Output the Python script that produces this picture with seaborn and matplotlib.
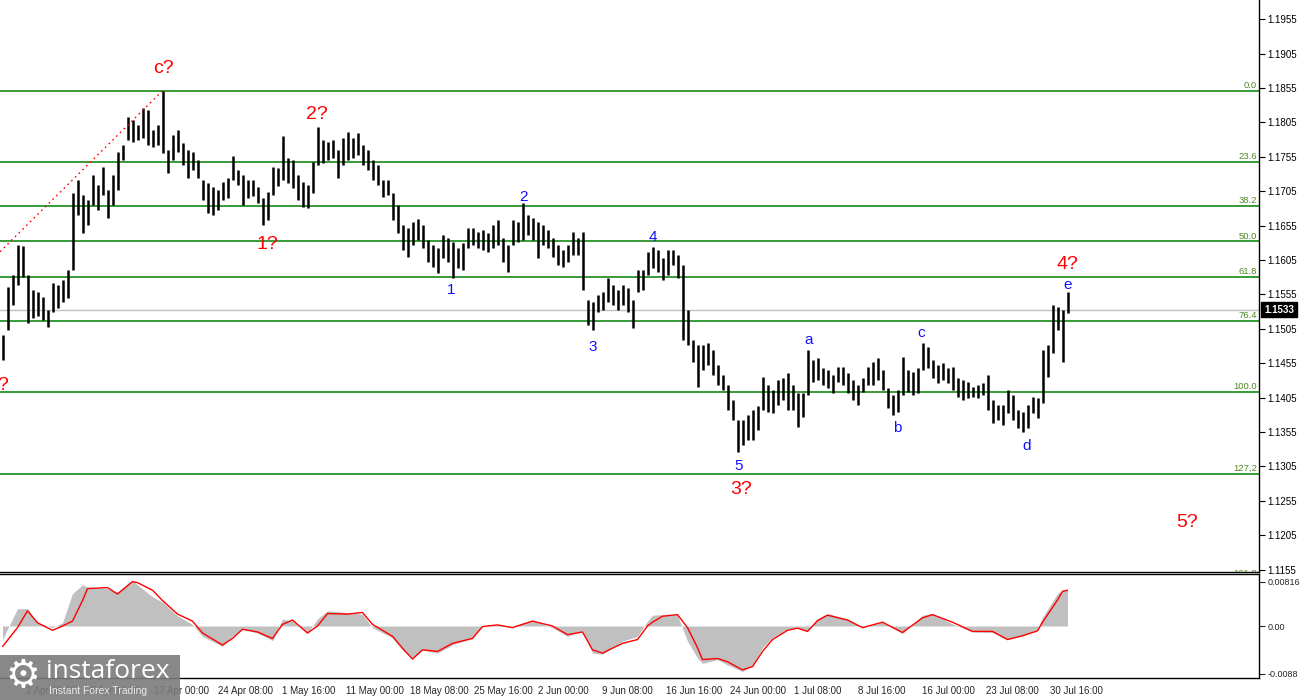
import numpy as np
import matplotlib
matplotlib.use("Agg")
import matplotlib.pyplot as plt
import seaborn as sns
from matplotlib.patches import Rectangle

# price bars, 4-digit codes: 1632 -> 1.1632
high = [1496, 1566, 1583, 1627, 1625, 1583, 1561, 1558, 1551, 1532,
        1572, 1569, 1576, 1590, 1702, 1721, 1699, 1692, 1728, 1714,
        1740, 1707, 1728, 1762, 1772, 1813, 1808, 1801, 1826, 1823,
        1794, 1801, 1851, 1765, 1787, 1794, 1775, 1765, 1762, 1750,
        1721, 1717, 1711, 1707, 1718, 1724, 1756, 1736, 1728, 1721,
        1721, 1711, 1695, 1704, 1740, 1739, 1785, 1753, 1750, 1728,
        1718, 1714, 1748, 1798, 1779, 1777, 1779, 1765, 1782, 1791,
        1782, 1790, 1772, 1765, 1750, 1743, 1721, 1721, 1702, 1685,
        1656, 1651, 1660, 1665, 1656, 1634, 1627, 1622, 1641, 1637,
        1631, 1622, 1630, 1651, 1651, 1646, 1649, 1644, 1656, 1663,
        1637, 1627, 1663, 1660, 1688, 1670, 1666, 1660, 1656, 1649,
        1637, 1627, 1620, 1627, 1646, 1637, 1646, 1547, 1544, 1554,
        1558, 1579, 1569, 1561, 1569, 1564, 1547, 1590, 1590, 1617,
        1624, 1620, 1608, 1620, 1620, 1612, 1598, 1532, 1489, 1482,
        1482, 1484, 1474, 1452, 1438, 1423, 1402, 1372, 1372, 1380,
        1387, 1393, 1435, 1423, 1416, 1431, 1434, 1441, 1423, 1412,
        1412, 1474, 1460, 1463, 1448, 1445, 1438, 1449, 1449, 1441,
        1431, 1423, 1434, 1449, 1457, 1463, 1445, 1419, 1409, 1416,
        1464, 1445, 1442, 1448, 1484, 1479, 1460, 1452, 1455, 1448,
        1449, 1434, 1431, 1428, 1420, 1423, 1426, 1438, 1402, 1394,
        1394, 1416, 1409, 1387, 1384, 1394, 1406, 1404, 1474, 1482,
        1540, 1537, 1532, 1559]
low = [1460, 1503, 1540, 1569, 1580, 1513, 1521, 1524, 1518, 1508,
       1529, 1535, 1544, 1550, 1590, 1670, 1644, 1656, 1685, 1678,
       1699, 1666, 1685, 1707, 1750, 1779, 1777, 1779, 1782, 1772,
       1769, 1772, 1760, 1731, 1750, 1762, 1743, 1724, 1736, 1724,
       1692, 1673, 1670, 1678, 1692, 1695, 1721, 1714, 1685, 1695,
       1698, 1688, 1656, 1663, 1699, 1713, 1721, 1717, 1710, 1692,
       1682, 1680, 1702, 1743, 1746, 1750, 1753, 1724, 1743, 1750,
       1753, 1758, 1743, 1736, 1721, 1714, 1697, 1699, 1663, 1644,
       1620, 1609, 1627, 1634, 1622, 1602, 1595, 1586, 1608, 1602,
       1579, 1593, 1590, 1622, 1627, 1622, 1620, 1617, 1622, 1627,
       1602, 1588, 1627, 1631, 1634, 1641, 1634, 1608, 1627, 1622,
       1609, 1598, 1595, 1602, 1612, 1612, 1561, 1511, 1503, 1529,
       1532, 1544, 1540, 1532, 1540, 1529, 1506, 1558, 1561, 1583,
       1593, 1588, 1576, 1583, 1598, 1579, 1489, 1482, 1457, 1420,
       1445, 1452, 1438, 1423, 1416, 1387, 1372, 1326, 1336, 1343,
       1343, 1358, 1387, 1384, 1383, 1394, 1402, 1387, 1387, 1362,
       1377, 1409, 1428, 1431, 1423, 1419, 1412, 1428, 1423, 1412,
       1402, 1394, 1413, 1423, 1423, 1431, 1416, 1390, 1380, 1384,
       1409, 1413, 1409, 1412, 1445, 1448, 1434, 1426, 1431, 1426,
       1416, 1406, 1402, 1404, 1406, 1404, 1409, 1387, 1368, 1372,
       1365, 1383, 1372, 1361, 1355, 1361, 1383, 1375, 1397, 1435,
       1470, 1503, 1457, 1528]
last_price = 1.1533

fib_labels = ["0.0", "23.6", "38.2", "50.0", "61.8", "76.4", "100.0", "127,2", "161.8"]
fib_prices = [1.1851, 1.1748, 1.1684, 1.1632, 1.1580, 1.1516, 1.1413, 1.1294, 1.1142]

# MACD panel (bar index, main histogram, signal)
macd_bar = [0, 3, 5, 7, 10, 12, 14, 16, 17, 21, 23, 26, 27, 30, 32, 35, 38, 40, 44, 46,
            48, 51, 54, 56, 58, 61, 63, 65, 69, 72, 74, 78, 80, 82, 84, 87, 90, 94, 96, 99,
            102, 106, 110, 113, 116, 118, 120, 124, 127, 129, 130, 132, 135, 137, 139, 140,
            143, 145, 148, 150, 152, 154, 157, 159, 161, 163, 165, 169, 172, 176, 180, 184,
            186, 190, 194, 198, 201, 204, 207, 208, 211, 212, 213]
macd_main = [-0.0025, 0.0032, 0.0032, 0.0006, -0.0003, 0.0006, 0.0060, 0.0076, 0.0072, 0.0069,
             0.0063, 0.0085, 0.0076, 0.0054, 0.0044, 0.0019, 0.0003, -0.0019, -0.0038, -0.0019,
             -0.0006, -0.0013, -0.0027, 0.0013, 0.0009, -0.0013, 0.0013, 0.0028, 0.0025, 0.0022,
             -0.0003, -0.0022, -0.0044, -0.0060, -0.0044, -0.0050, -0.0035, -0.0022, 0.0000, 0.0002,
             0.0000, 0.0011, -0.0003, -0.0019, -0.0009, -0.0050, -0.0052, -0.0028, -0.0019, 0.0009,
             0.0020, 0.0021, 0.0020, -0.0028, -0.0059, -0.0069, -0.0062, -0.0072, -0.0084, -0.0072,
             -0.0040, -0.0021, -0.0006, -0.0003, -0.0009, 0.0013, 0.0023, 0.0013, -0.0003, 0.0007,
             -0.0014, 0.0020, 0.0023, 0.0004, -0.0011, -0.0012, -0.0025, -0.0018, -0.0006, 0.0016,
             0.0060, 0.0066, 0.0068]
macd_signal = [-0.0038, -0.0003, 0.0028, 0.0006, -0.0008, 0.0000, 0.0009, 0.0047, 0.0069, 0.0071,
               0.0059, 0.0082, 0.0080, 0.0066, 0.0047, 0.0022, 0.0009, -0.0013, -0.0035, -0.0023,
               -0.0006, -0.0011, -0.0023, 0.0003, 0.0011, -0.0013, 0.0000, 0.0023, 0.0022, 0.0025,
               0.0003, -0.0019, -0.0041, -0.0061, -0.0044, -0.0047, -0.0032, -0.0023, -0.0001, 0.0002,
               -0.0003, 0.0009, 0.0000, -0.0016, -0.0011, -0.0044, -0.0050, -0.0032, -0.0025, 0.0000,
               0.0007, 0.0018, 0.0021, -0.0003, -0.0040, -0.0062, -0.0060, -0.0066, -0.0081, -0.0075,
               -0.0047, -0.0025, -0.0008, -0.0004, -0.0010, 0.0010, 0.0020, 0.0011, -0.0003, 0.0007,
               -0.0012, 0.0015, 0.0021, 0.0007, -0.0010, -0.0010, -0.0025, -0.0018, -0.0009, 0.0007,
               0.0048, 0.0064, 0.0066]

date_labels = ["2 Apr 08:00", "9 Apr 16:00", "17 Apr 00:00", "24 Apr 08:00", "1 May 16:00",
               "11 May 00:00", "18 May 08:00", "25 May 16:00", "2 Jun 00:00", "9 Jun 08:00",
               "16 Jun 16:00", "24 Jun 00:00", "1 Jul 08:00", "8 Jul 16:00", "16 Jul 00:00",
               "23 Jul 08:00", "30 Jul 16:00"]

wave_red = ["c?", "2?", "1?", "3?", "4?", "5?", "?"]
wave_blue = ["1", "2", "3", "4", "5", "a", "b", "c", "d", "e"]

# ---- layout ----
red_pos = [(32.1, 1.1884), (62.9, 1.1817), (52.9, 1.1627), (147.7, 1.1271),
           (212.9, 1.1598), (236.9, 1.1223), (0.0, 1.1423)]
blue_pos = [(89.7, 1.1561), (104.1, 1.1697), (118.1, 1.1479), (130.1, 1.1638),
            (147.3, 1.1306), (161.3, 1.1489), (178.9, 1.1361), (183.7, 1.1499),
            (204.9, 1.1335), (213.1, 1.1569)]

sns.set_style("white")
plt.rcParams["font.family"] = ["Liberation Sans", "DejaVu Sans"]

fig = plt.figure(figsize=(13, 7), dpi=100)
W, H = 1300.0, 700.0
ax = fig.add_axes([0, 1 - 572 / H, 1259 / W, 572 / H])
ax2 = fig.add_axes([0, 22 / H, 1259 / W, 104 / H])

xlim = (-0.5, 251.3)
bars = np.arange(len(high))
hi = 1.0 + np.array(high) / 1e4
lo = 1.0 + np.array(low) / 1e4

# price panel
for p in fib_prices:
    ax.axhline(p, color="#008000", lw=1.1, zorder=2)
for p, lbl in zip(fib_prices, fib_labels):
    ax.text(0.9985, p + 0.00012, lbl, transform=ax.get_yaxis_transform(), ha="right",
            va="bottom", fontsize=6.8, color="#4d8a1e", clip_on=True)
ax.axhline(last_price, color="#c0c0c0", lw=1, zorder=1)
ax.vlines(bars, lo, hi, color="black", lw=1.8, zorder=3)
ax.plot([-0.5, 32], [1.1617, 1.1851], color="red", lw=1, ls=(0, (1.2, 2.6)), zorder=4)

for t, (bx, by) in zip(wave_red, red_pos):
    ax.text(bx, by, t, color="red", fontsize=14, ha="center", va="center", zorder=5)
for t, (bx, by) in zip(wave_blue, blue_pos):
    ax.text(bx, by, t, color="#1010ff", fontsize=11, ha="center", va="center", zorder=5)

ax.set_xlim(*xlim)
ax.set_ylim(1.11515, 1.19829)
ax.yaxis.tick_right()
ax.set_yticks(np.arange(1.1155, 1.1960, 0.005))
ax.yaxis.set_major_formatter(matplotlib.ticker.FormatStrFormatter("%.4f"))
ax.tick_params(axis="y", direction="out", length=4, width=0.8, labelsize=7, pad=2,
               colors="black")
ax.set_xticks([])
for s in ["top", "left"]:
    ax.spines[s].set_visible(False)
for s in ["right", "bottom"]:
    ax.spines[s].set_color("black")
    ax.spines[s].set_linewidth(1)

ax.text(1.004, last_price, "1.1533", transform=ax.get_yaxis_transform(), ha="left",
        va="center", fontsize=7, color="white", fontweight="bold", clip_on=False,
        bbox=dict(boxstyle="square,pad=0.3", fc="black", ec="black"), zorder=6)

# MACD panel
ax2.fill_between(macd_bar, 0, macd_main, color="#c0c0c0", lw=0)
sns.lineplot(x=macd_bar, y=macd_signal, ax=ax2, color="red", lw=1, legend=False)
ax2.set_xlim(*xlim)
ax2.set_ylim(-0.0096, 0.0096)
ax2.set_xlabel("")
ax2.set_ylabel("")
ax2.yaxis.tick_right()
ax2.set_yticks([-0.0088, 0.0, 0.00816])
ax2.set_yticklabels(["-0.0088", "0.00", "0.00816"])
ax2.tick_params(axis="y", direction="out", length=4, width=0.8, labelsize=6.5, pad=2)
first_tick, tick_step = 4.7, 12.8
ticks = first_tick + tick_step * np.arange(len(date_labels))
ax2.set_xticks(ticks)
ax2.set_xticklabels(date_labels)
ax2.tick_params(axis="x", direction="out", length=3, width=0.8, labelsize=7, pad=3)
for lb in ax2.get_xticklabels():
    lb.set_horizontalalignment("left")
ax2.spines["left"].set_visible(False)
for s in ["top", "right", "bottom"]:
    ax2.spines[s].set_color("black")
    ax2.spines[s].set_linewidth(1)

# logo box
fig.add_artist(Rectangle((0, 0), 180 / W, 45 / H, transform=fig.transFigure,
                         fc="#7b7b7b", ec="none", alpha=0.9, zorder=10))
fig.text(23 / W, 1 - 676 / H, "\u2699", color="white", fontsize=28, ha="center",
         va="center", family="DejaVu Sans", zorder=11)
fig.text(46 / W, 1 - 671 / H, "instaforex", color="white", fontsize=19, ha="left",
         va="center", family="Open Sans", zorder=11)
fig.text(49 / W, 1 - 691 / H, "Instant Forex Trading", color="#ececec", fontsize=7.5,
         ha="left", va="center", zorder=11)

fig.savefig("out.png", dpi=100)
